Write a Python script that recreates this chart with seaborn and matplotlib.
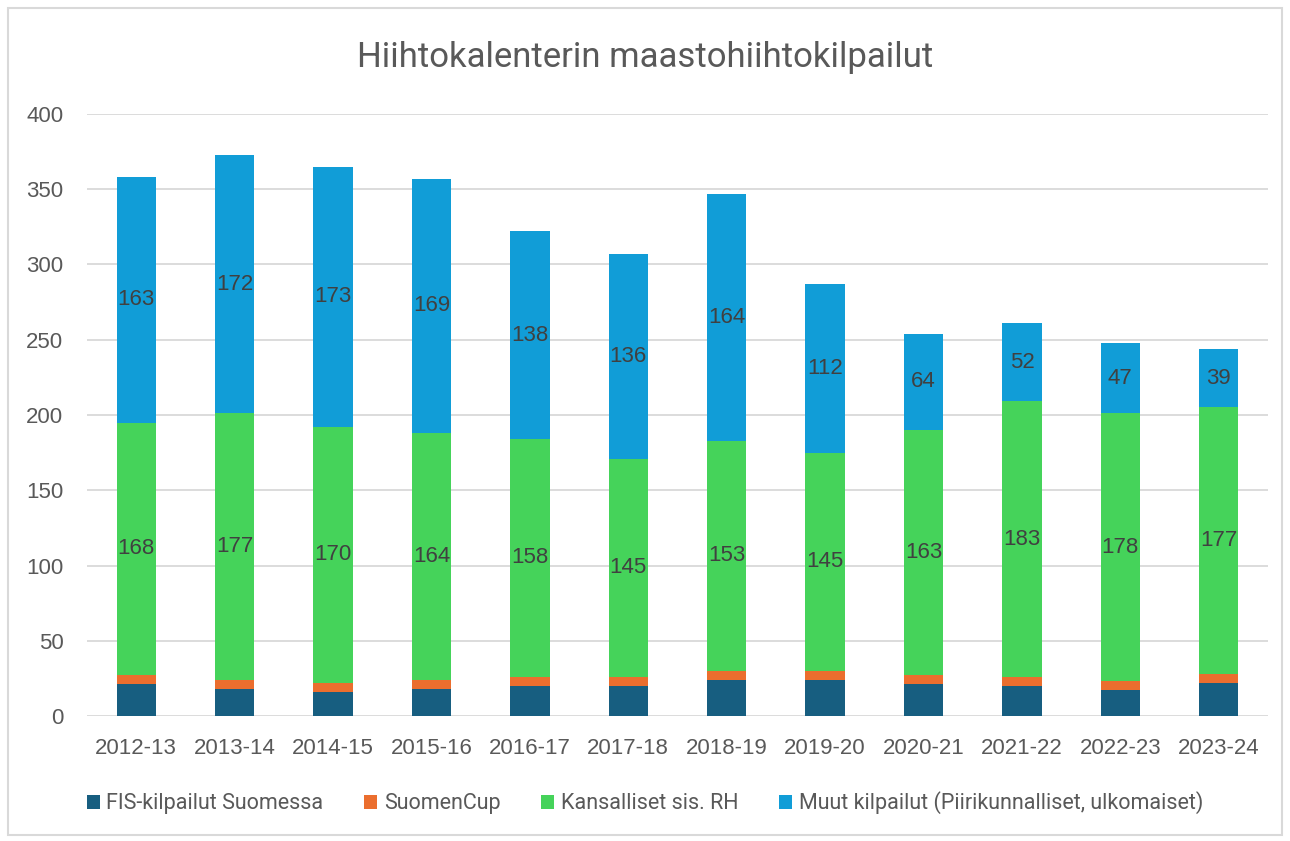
import numpy as np
import pandas as pd
import matplotlib
matplotlib.use("Agg")
import matplotlib.pyplot as plt
import seaborn as sns
from matplotlib.patches import Patch, Rectangle

seasons = ["2012-13", "2013-14", "2014-15", "2015-16", "2016-17", "2017-18",
           "2018-19", "2019-20", "2020-21", "2021-22", "2022-23", "2023-24"]
fis = [21, 18, 16, 18, 20, 20, 24, 24, 21, 20, 17, 22]
suomencup = [6, 6, 6, 6, 6, 6, 6, 6, 6, 6, 6, 6]
kansalliset = [168, 177, 170, 164, 158, 145, 153, 145, 163, 183, 178, 177]
muut = [163, 172, 173, 169, 138, 136, 164, 112, 64, 52, 47, 39]

series_names = ["FIS-kilpailut Suomessa", "SuomenCup", "Kansalliset sis. RH",
                "Muut kilpailut (Piirikunnalliset, ulkomaiset)"]
colors = ["#175E80", "#EB6E2E", "#45D35A", "#119DD7"]

sns.set_theme(style="white")
plt.rcParams["font.family"] = ["Liberation Sans", "DejaVu Sans"]

fig = plt.figure(figsize=(12.9, 8.41), dpi=100)
ax = fig.add_axes([87 / 1290, 1 - 716 / 841, (1268 - 87) / 1290, (716 - 114) / 841])

df = pd.DataFrame({"season": seasons, "fis": fis, "cup": suomencup,
                   "kans": kansalliset, "muut": muut})
df["c1"] = df["fis"]
df["c2"] = df["c1"] + df["cup"]
df["c3"] = df["c2"] + df["kans"]
df["c4"] = df["c3"] + df["muut"]

for col, colr in zip(["c4", "c3", "c2", "c1"], colors[::-1]):
    sns.barplot(data=df, x="season", y=col, color=colr, width=0.4, ax=ax,
                saturation=1, edgecolor="none", zorder=3)

# labels for green and blue segments
for i, row in df.iterrows():
    ax.text(i, row["c2"] + row["kans"] / 2, str(row["kans"]), ha="center", va="center",
            fontsize=16, color="#404040", zorder=5)
    ax.text(i, row["c3"] + row["muut"] / 2, str(row["muut"]), ha="center", va="center",
            fontsize=16, color="#404040", zorder=5)

ax.set_ylim(0, 400)
ax.set_xlim(-0.5, len(seasons) - 0.5)
ax.set_yticks(range(0, 401, 50))
ax.yaxis.grid(True, color="#D9D9D9", linewidth=1.3, zorder=0)
ax.set_axisbelow(True)
for s in ax.spines.values():
    s.set_visible(False)
ax.set_xlabel("")
ax.set_ylabel("")
ax.tick_params(axis="both", length=0, labelsize=16, colors="#595959")
ax.tick_params(axis="x", pad=16)
ax.tick_params(axis="y", pad=17)

fig.text(0.5, 1 - 57 / 841, "Hiihtokalenterin maastohiihtokilpailut", ha="center", va="center",
         fontsize=25, color="#595959", family=["Roboto", "DejaVu Sans"])

handles = [Patch(facecolor=c, edgecolor="none") for c in colors]
fig.legend(handles, series_names, loc="center", bbox_to_anchor=(0.5, 1 - 803 / 841),
           ncol=4, frameon=False, labelcolor="#595959",
           prop={"family": ["Roboto", "DejaVu Sans"], "size": 15.5},
           handlelength=0.6, handleheight=0.6, handletextpad=0.3, columnspacing=1.9)

fig.patches.append(Rectangle((8 / 1290, 6 / 841), 1 - 16 / 1290, 1 - 14 / 841,
                             transform=fig.transFigure, fill=False,
                             edgecolor="#D9D9D9", linewidth=1.5))

fig.savefig("out.png", dpi=100)
